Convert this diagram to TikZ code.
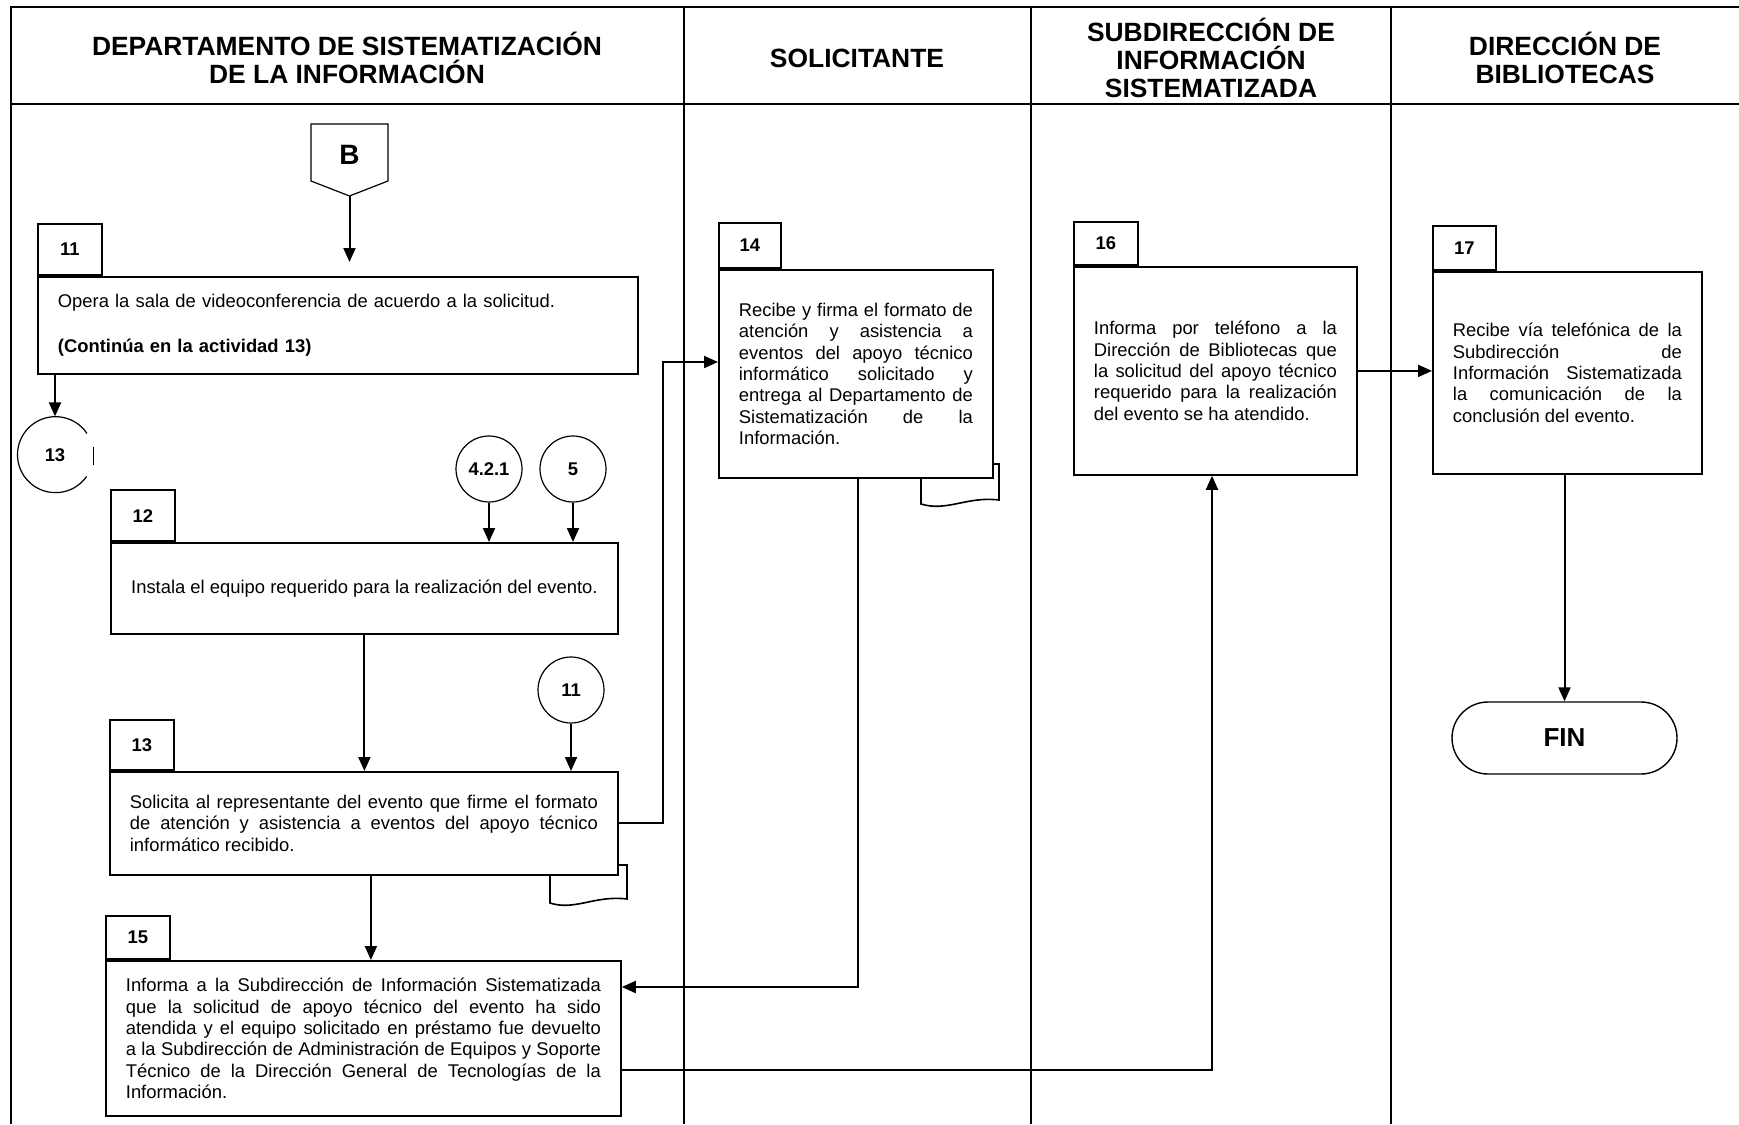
\documentclass[tikz,border=0pt]{standalone}
\usepackage{fontspec}
\setmainfont{Liberation Sans}
\usepackage{tikz}
\usetikzlibrary{arrows.meta, positioning, calc}
\definecolor{mydark}{RGB}{0,0,0}
\newcommand{\bodyfont}{\fontsize{9.2}{10.65}\selectfont}
\hbadness=10000
\tikzset{
  lane/.style={line width=1.4pt, color=mydark},
  hdr/.style={font=\fontsize{13.2}{14}\selectfont\bfseries, align=center},
  actbox/.style={rectangle, draw=mydark, fill=white, line width=0.9pt,
    anchor=north west, inner xsep=10pt, inner ysep=0pt,
    align=justify, font=\bodyfont},
  numtab/.style={rectangle, draw=mydark, fill=white, line width=0.9pt,
    anchor=south west, minimum width=32pt, minimum height=22pt,
    inner sep=0pt, font=\bodyfont\bfseries},
  conn/.style={circle, draw=mydark, line width=0.6pt, minimum size=33pt,
    inner sep=0pt, font=\bodyfont\bfseries},
  term/.style={rectangle, rounded corners=18pt, draw=mydark, line width=0.7pt,
    minimum width=112.5pt, minimum height=36pt,
    font=\fontsize{13}{14}\selectfont\bfseries},
  doc/.style={draw=mydark, fill=white, line width=0.8pt},
  arrow/.style={-{Triangle[length=7pt, width=6pt]}, line width=1pt, color=mydark},
  line/.style={line width=1pt, color=mydark}
}

\begin{document}
\begin{tikzpicture}[x=0.5pt, y=-0.5pt]
  \useasboundingbox (0,0) rectangle (1739,1124);

  % swimlanes
  \draw[lane] (11,1124) -- (11,7) -- (1739,7);
  \draw[line width=1.3pt] (11,104) -- (1739,104);
  \foreach \xl in {684,1031,1391}
    \draw[lane] (\xl,7) -- (\xl,1124);

  \node[hdr] (h1) at (347,58) {DEPARTAMENTO DE SISTEMATIZACIÓN\\DE LA INFORMACIÓN};
  \node[hdr] (h2) at (857,58) {SOLICITANTE};
  \node[hdr] (h3) at (1211,58) {SUBDIRECCIÓN DE\\INFORMACIÓN\\SISTEMATIZADA};
  \node[hdr] (h4) at (1565,58) {DIRECCIÓN DE\\BIBLIOTECAS};

  % off-page connector
  \draw[line width=0.6pt] (311,124) -- (388,124) -- (388,181) -- (349.5,196)
    -- (311,181) -- cycle;
  \node[font=\fontsize{14}{16}\selectfont\bfseries] (offB) at (349.5,155) {B};
  \coordinate (Btip) at (349.5,196);

  % documents
  \draw[doc] (550,865) -- (627,865) -- (627,899)
    .. controls (595,895) and (575,911) .. (550,903) -- cycle;
  \draw[doc] (921,464) -- (999,464) -- (999,500)
    .. controls (967,496) and (947,512) .. (921,504) -- cycle;

  % activities
  \node[actbox, align=left, text width=280pt, minimum height=48.5pt] (a11) at (37,276)
    {Opera la sala de videoconferencia de acuerdo a la solicitud.\\[11.8pt]
     \textbf{(Continúa en la actividad 13)}};
  \node[numtab, minimum height=25.5pt] (t11) at (a11.north west) {11};

  \node[actbox, align=center, minimum width=253.5pt, minimum height=45.5pt] (a12) at (110,542)
    {Instala el equipo requerido para la realización del evento.};
  \node[numtab, minimum height=25.5pt] (t12) at (a12.north west) {12};

  \node[actbox, text width=234pt, minimum height=51.5pt] (a13) at (109,771)
    {Solicita al representante del evento que firme el formato\linebreak
     de atención y asistencia a eventos del apoyo técnico\linebreak
     informático recibido.};
  \node[numtab, minimum height=25pt] (t13) at (a13.north west) {13};

  \node[actbox, text width=117pt, minimum height=104pt] (a14) at (718,269)
    {Recibe y firma el formato de\linebreak
     atención y asistencia a\linebreak
     eventos del apoyo técnico\linebreak
     informático solicitado y\linebreak
     entrega al Departamento de\linebreak
     Sistematización de la\linebreak
     Información.};
  \node[numtab, minimum width=31pt, minimum height=22.5pt] (t14) at (a14.north west) {14};

  \node[actbox, text width=237.5pt, minimum height=77.5pt] (a15) at (105,960)
    {Informa a la Subdirección de Información Sistematizada\linebreak
     que la solicitud de apoyo técnico del evento ha sido\linebreak
     atendida y el equipo solicitado en préstamo fue devuelto\linebreak
     a la Subdirección de Administración de Equipos y Soporte\linebreak
     Técnico de la Dirección General de Tecnologías de la\linebreak
     Información.};
  \node[numtab, minimum height=21.5pt] (t15) at (a15.north west) {15};

  \node[actbox, text width=121.5pt, minimum height=104pt] (a16) at (1073,266)
    {Informa por teléfono a la\linebreak
     Dirección de Bibliotecas que\linebreak
     la solicitud del apoyo técnico\linebreak
     requerido para la realización\linebreak
     del evento se ha atendido.};
  \node[numtab, minimum height=21.5pt] (t16) at (a16.north west) {16};

  \node[actbox, text width=114.5pt, minimum height=101pt] (a17) at (1432,271)
    {Recibe vía telefónica de la\linebreak
     Subdirección de\linebreak
     Información Sistematizada\linebreak
     la comunicación de la\linebreak
     conclusión del evento.};
  \node[numtab, minimum width=31.5pt] (t17) at (a17.north west) {17};

  % connectors
  \node[conn, draw=none, minimum size=38pt] (c13) at (55,455) {13};
  \draw[line width=0.6pt] (c13.34) arc[start angle=34, end angle=325, radius=19pt];
  \draw[line width=0.6pt] ([yshift=4pt]c13.east) -- ([yshift=-5pt]c13.east);
  \node[conn] (c421) at (489,469) {4.2.1};
  \node[conn] (c5) at (573,469) {5};
  \node[conn] (c11) at (571,690) {11};
  \node[term] (fin) at (1564.5,738) {FIN};

  \coordinate (j1) at (663,362);
  \coordinate (j2) at (858,987);
  \coordinate (j3) at (1212,1070);

  \draw[arrow, shorten >=7pt] (Btip) -- (Btip |- a11.north);
  \draw[arrow] (a11.south -| c13.north) -- (c13.north);
  \draw[arrow] (c421) -- (c421 |- a12.north);
  \draw[arrow] (c5) -- (c5 |- a12.north);
  \draw[arrow] (a12) -- (a12 |- a13.north);
  \draw[arrow] (c11) -- (c11 |- a13.north);
  \draw[arrow] (a13.east) -| (j1) -- (j1 -| a14.west);
  \draw[arrow] ([xshift=3.5pt]a13.south) -- ([xshift=3.5pt]a13.south |- a15.north);
  \draw[arrow] (a14.south -| j2) -- (j2) -- (j2 -| a15.east);
  \draw[arrow] (j3 -| a15.east) -- (j3) -- (j3 |- a16.south);
  \draw[arrow] (a16.east) -- (a16.east -| a17.west);
  \draw[arrow] (a17.south -| fin.north) -- (fin.north);
\end{tikzpicture}
\end{document}
